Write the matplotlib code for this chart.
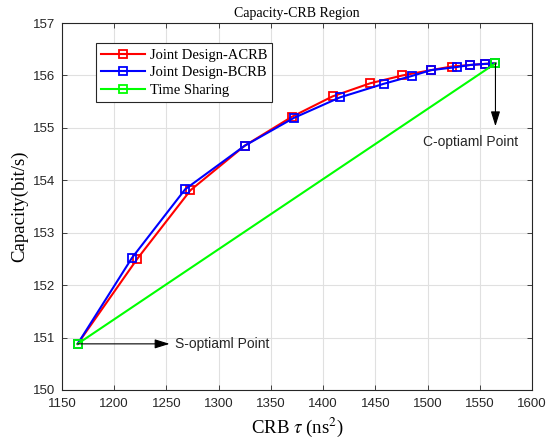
import matplotlib
matplotlib.use('Agg')
import matplotlib.pyplot as plt

# data
# Joint Design - ACRB (red)
acrb_x = [1165, 1222, 1273, 1325, 1370, 1409, 1445, 1476, 1503, 1523, 1541, 1555, 1565]
acrb_y = [150.88, 152.50, 153.81, 154.66, 155.21, 155.60, 155.85, 156.00, 156.10, 156.17, 156.20, 156.22, 156.23]

# Joint Design - BCRB (blue)
bcrb_x = [1165, 1217, 1268, 1325, 1372, 1416, 1458, 1485, 1503, 1528, 1541, 1555, 1565]
bcrb_y = [150.88, 152.52, 153.83, 154.66, 155.19, 155.58, 155.84, 155.99, 156.10, 156.16, 156.20, 156.22, 156.23]

# time sharing between the two end points (green)
ts_x = [1165, 1565]
ts_y = [150.88, 156.23]

serif = 'Liberation Serif'
sans = 'Liberation Sans'
plt.rcParams['mathtext.fontset'] = 'stix'
dark = (0.15, 0.15, 0.15)

fig = plt.figure(figsize=(5.47, 4.45), dpi=100)
ax = fig.add_axes([0.1133, 0.1236, 0.8593, 0.8247])

mk = dict(marker='s', markersize=5.3, markerfacecolor='none', markeredgewidth=1.3, linewidth=1.5)
ax.plot(acrb_x, acrb_y, color=(1, 0, 0), label='Joint Design-ACRB', **mk)
ax.plot(bcrb_x, bcrb_y, color=(0, 0, 1), label='Joint Design-BCRB', **mk)
ax.plot(ts_x, ts_y, color=(0, 1, 0), label='Time Sharing', **mk)

# annotations
arrow = dict(arrowstyle='-|>,head_length=0.9,head_width=0.28', color='black', lw=0.8, shrinkA=0, shrinkB=0)
ax.annotate('', xy=(1253, ts_y[0]), xytext=(ts_x[0], ts_y[0]), arrowprops=arrow)
ax.text(1258, ts_y[0], 'S-optiaml Point', family=sans, fontsize=10, va='center', ha='left', color=dark)
ax.annotate('', xy=(ts_x[1], 155.03), xytext=(ts_x[1], ts_y[1]), arrowprops=arrow)
ax.text(1541, 154.73, 'C-optiaml Point', family=sans, fontsize=10, va='center', ha='center', color=dark)

ax.set_xlim(1150, 1600)
ax.set_ylim(150, 157)
ax.set_xticks(range(1150, 1601, 50))
ax.set_yticks(range(150, 158))
ax.grid(True, color=(0.88, 0.88, 0.88), linewidth=0.8)
ax.set_axisbelow(True)
ax.tick_params(direction='in', top=True, right=True, length=3.5, width=0.6,
               labelsize=9.5, colors=dark)
ax.tick_params(axis='x', pad=6)
ax.tick_params(axis='y', pad=5)
for lbl in ax.get_xticklabels() + ax.get_yticklabels():
    lbl.set_family(sans)
for sp in ax.spines.values():
    sp.set_color(dark)
    sp.set_linewidth(0.8)

ax.set_title('Capacity-CRB Region', family=serif, fontsize=10, pad=4)
ax.set_xlabel(r'CRB $\tau$ (ns$^2$)', family=serif, fontsize=13.5, labelpad=4)
ax.set_ylabel('Capacity(bit/s)', family=serif, fontsize=13.5, labelpad=3)

leg = ax.legend(loc='upper left', bbox_to_anchor=(0.0717, 0.9447), borderaxespad=0,
                prop={'family': serif, 'size': 10.5}, fancybox=False, framealpha=1,
                edgecolor=dark, handlelength=3.0, handletextpad=0.35,
                labelspacing=0.3, borderpad=0.35)
leg.get_frame().set_linewidth(0.8)

fig.savefig('out.png', dpi=100)
